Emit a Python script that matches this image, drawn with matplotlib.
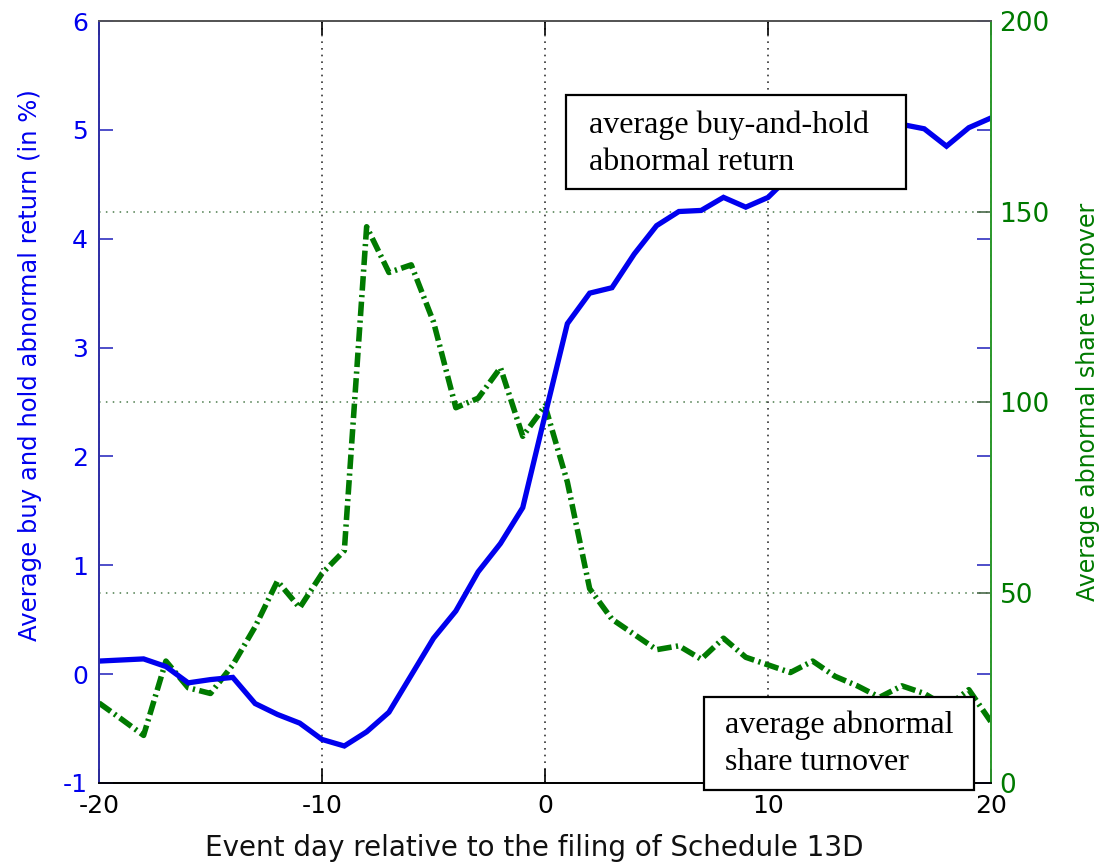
import matplotlib
matplotlib.use('Agg')
import matplotlib.pyplot as plt
from matplotlib.patches import Rectangle

# ------------------- DATA -------------------
days = list(range(-20, 21))
bhar = [0.12, 0.13, 0.14, 0.07, -0.08, -0.05, -0.03, -0.27, -0.37, -0.45,
        -0.60, -0.66, -0.53, -0.35, -0.01, 0.33, 0.58, 0.94, 1.20, 1.53,
        2.38, 3.22, 3.50, 3.55, 3.86, 4.12, 4.25, 4.26, 4.38, 4.29,
        4.38, 4.58, 4.75, 4.90, 5.00, 5.04, 5.05, 5.01, 4.85, 5.02, 5.11]
turnover = [21, 16.8, 12.5, 32, 25, 23.5, 31, 41, 53, 46,
            55, 61, 146, 134, 136, 121, 98.5, 101, 109, 91,
            99, 79, 51, 43, 39, 35, 36, 32.5, 38, 33,
            31, 29, 32, 28, 25.5, 22.5, 25.5, 23.5, 20, 24.5, 16]
xticks = [-20, -10, 0, 10, 20]
yticks_left = [-1, 0, 1, 2, 3, 4, 5, 6]
yticks_right = [0, 50, 100, 150, 200]

blue = '#0000ee'
green = '#007a00'
sans = 'DejaVu Sans'
serif = 'Liberation Serif'
plt.rcParams['axes.unicode_minus'] = False

# ------------------- PLOT -------------------
fig = plt.figure(figsize=(11.11, 8.65), dpi=100)
ax = fig.add_axes([0.0891, 0.0948, 0.8030, 0.8809])
ax2 = ax.twinx()
ax.set_zorder(ax2.get_zorder() + 1)
ax.patch.set_visible(False)

ax2.plot(days, turnover, color=green, lw=4.0, linestyle=(0, (2.6, 0.8, 0.4, 0.8)),
         solid_capstyle='butt', dash_capstyle='butt')
ax.plot(days, bhar, color=blue, lw=3.8, solid_joinstyle='miter')

ax.set_xlim(-20, 20)
ax.set_ylim(-1, 6)
ax2.set_ylim(0, 200)
ax.set_xticks(xticks)
ax.set_yticks(yticks_left)
ax2.set_yticks(yticks_right)

# grids: vertical black dotted, horizontal from the right axis in green-grey
ax.xaxis.grid(True, color='#333333', linestyle=(0, (1, 3)), lw=1.2)
ax2.yaxis.grid(True, color='#4a7a4a', linestyle=(0, (1, 3.5)), lw=1.1)

ax.tick_params(axis='x', direction='in', length=10, width=1.2, top=True,
               labelsize=18, pad=8, colors='black')
ax.tick_params(axis='y', direction='in', length=10, width=1.2, right=True,
               labelsize=18, pad=8, color='#3030c0', labelcolor=blue)
ax2.tick_params(axis='y', direction='in', length=10, width=1.2,
                labelsize=19, pad=6, color='#4a6a4a', labelcolor=green)
for lab in ax.get_xticklabels() + ax.get_yticklabels() + ax2.get_yticklabels():
    lab.set_family(sans)

for a in (ax, ax2):
    a.spines['left'].set_color('#3030a8')
    a.spines['right'].set_color('#2e9a2e')
    a.spines['top'].set_color('#555555')
    a.spines['bottom'].set_color('black')
    for s in a.spines.values():
        s.set_linewidth(1.3)

ax.set_xlabel('Event day relative to the filing of Schedule 13D',
              fontsize=20, family=sans, color='#111111', va='center')
ax.xaxis.set_label_coords(0.488, -0.085)
ax.set_ylabel('Average buy and hold abnormal return (in %)',
              fontsize=17.5, family=sans, color=blue, va='center')
ax.yaxis.set_label_coords(-0.077, 0.549)
ax2.set_ylabel('Average abnormal share turnover', fontsize=17, family=sans,
               color=green, rotation=90, va='center')
ax2.yaxis.set_label_coords(1.109, 0.5)

# annotation boxes
boxes = [
    ((0.524, 0.780), 0.381, 0.123, 0.549,
     ['average buy-and-hold', 'abnormal return'], [0.853, 0.8045]),
    ((0.678, -0.009), 0.303, 0.122, 0.702,
     ['average abnormal', 'share turnover'], [0.0656, 0.0171]),
]
for (x0, y0), w, h, tx, lines, ys in boxes:
    ax.add_patch(Rectangle((x0, y0), w, h, transform=ax.transAxes,
                           facecolor='white', edgecolor='black', lw=1.6,
                           clip_on=False, zorder=10))
    for line, ty in zip(lines, ys):
        ax.text(tx, ty, line, transform=ax.transAxes, fontsize=23,
                family=serif, va='baseline', ha='left', zorder=11,
                clip_on=False)

fig.savefig('out.png', dpi=100)
